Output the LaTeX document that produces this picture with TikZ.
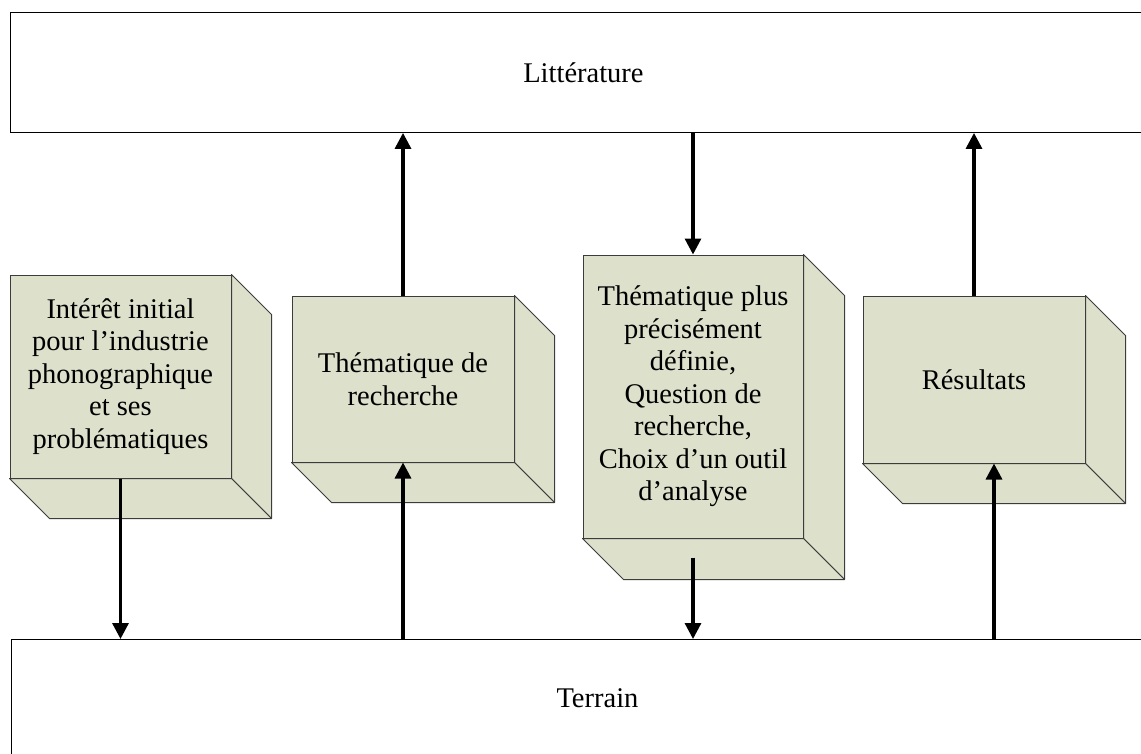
\documentclass[tikz,border=0pt]{standalone}
\usepackage{fontspec}
\setmainfont{Liberation Serif}
\usetikzlibrary{arrows.meta,calc}

\definecolor{cubefill}{RGB}{221,224,203}
\definecolor{cubeline}{RGB}{60,60,60}

\tikzset{
  band/.style={draw=black, line width=0.9pt, fill=white, anchor=north west,
    font=\fontsize{28.5}{32.5}\selectfont, inner sep=0pt},
  front/.style={draw=cubeline, line width=1pt, fill=cubefill, inner sep=0pt,
    align=center, font=\fontsize{28.5}{32.5}\selectfont},
  side/.style={draw=cubeline, line width=1pt, fill=cubefill, line join=round},
  flow/.style={line width=3.2pt, -{Triangle[length=16pt,width=16pt]}}
}

% draws the right and bottom faces of a box behind its front face node
\newcommand{\cubesides}[2]{%
  \path[side] (#1.north east) -- ++(#2,#2) -- ($(#1.south east)+(#2,#2)$)
    -- (#1.south east) -- cycle;
  \path[side] (#1.south west) -- ++(#2,#2) -- ($(#1.south east)+(#2,#2)$)
    -- (#1.south east) -- cycle;
}

\begin{document}
\begin{tikzpicture}[x=1pt,y=-1pt]
\useasboundingbox (0,0) rectangle (1141,753);
\clip (0,0) rectangle (1141,753);

% the two horizontal bands
\node[band, minimum width=1146pt, minimum height=120pt] (lit) at (10,12) {Littérature};
\node[band, minimum width=1172pt, minimum height=118pt] (ter) at (11,639) {Terrain};

% front faces of the four boxes
\node[front, minimum width=221pt, minimum height=203pt] (c1) at (120.5,376.5)
  {Intérêt initial\\pour l’industrie\\phonographique\\et ses\\problématiques};
\node[front, minimum width=222pt, minimum height=166pt] (c2) at (403,379)
  {Thématique de\\recherche};
\node[front, minimum width=220pt, minimum height=283pt] (c3) at (693,396.5)
  {Thématique plus\\précisément\\définie,\\Question de\\recherche,\\Choix d’un outil\\d’analyse};
\node[front, minimum width=222pt, minimum height=167pt] (c4) at (974,379.5)
  {Résultats};

\cubesides{c1}{40}
\cubesides{c2}{40}
\cubesides{c3}{41}
\cubesides{c4}{40}

% exchanges between the boxes and the two bands
\draw[flow] (c1.south) -- (c1.south |- ter.north);
\draw[flow] (c2.south |- ter.north) -- (c2.south);
\draw[flow] (c2.north) -- (c2.north |- lit.south);
\draw[flow] (c3.north |- lit.south) -- (c3.north);
\draw[flow] ($(c3.south)+(0,19)$) -- (c3.south |- ter.north);
\coordinate (r4) at ($(c4.south)+(20,0)$);
\draw[flow] (r4 |- ter.north) -- (r4);
\draw[flow] (c4.north) -- (c4.north |- lit.south);
\end{tikzpicture}
\end{document}
